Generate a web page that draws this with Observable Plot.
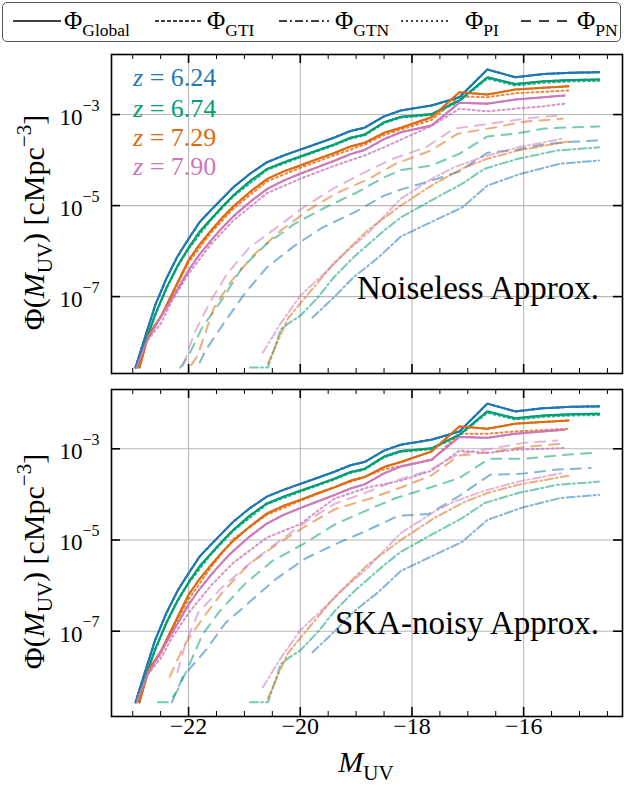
<!DOCTYPE html>
<html><head><meta charset="utf-8">
<script src="https://cdn.jsdelivr.net/npm/d3@7"></script>
<script src="https://cdn.jsdelivr.net/npm/@observablehq/plot@0.6"></script>
<style>
body{margin:0;background:#fff;width:624px;height:788px;overflow:hidden;}
#wrap{position:relative;width:624px;height:788px;}
#legend{position:absolute;left:2px;top:2px;width:619px;height:40px;border:1.2px solid #555;border-radius:5px;box-sizing:border-box;background:#fff;}
#legend svg{position:absolute;left:0;top:0;}
.panel{position:absolute;left:0;}
svg text, svg tspan{font-family:"Liberation Serif","Times New Roman",Tinos,"DejaVu Serif","Noto Serif",serif !important;}
</style></head><body><div id="wrap"><div id="legend"></div></div>
<script>
const FONT = '"Liberation Serif","Times New Roman",Tinos,"DejaVu Serif",serif';

// ---- labels / categories ----
const zLabels = ["6.24", "6.74", "7.29", "7.90"];
const zColors = ["#1f77b4", "#029e73", "#de6a10", "#cc78bc"];
const compNames = ["Global", "GTI", "GTN", "PI", "PN"];
const xMajor = [-22, -20, -18, -16];
const xMinor = [-23, -22.5, -21.5, -21, -20.5, -19.5, -19, -18.5, -17.5, -17, -16.5, -15.5, -15, -14.5];
const yTickExp = [-3, -5, -7];
const yTickVals = [1e-3, 1e-5, 1e-7];
const xTickText = ["\u221222", "\u221220", "\u221218", "\u221216"];

// ---- data: [M_UV, log10 Phi] ----
// Global (same in both panels)
const global624 = [[-22.95,-8.56],[-22.8,-7.97],[-22.6,-7.2],[-22.4,-6.61],[-22.2,-6.12],[-22.0,-5.73],[-21.8,-5.36],[-21.6,-5.10],[-21.4,-4.85],[-21.2,-4.60],[-20.9,-4.30],[-20.6,-4.05],[-20.3,-3.90],[-20.0,-3.77],[-19.7,-3.64],[-19.4,-3.51],[-19.1,-3.36],[-18.85,-3.29],[-18.5,-3.04],[-18.2,-2.91],[-17.65,-2.80],[-17.15,-2.62],[-16.65,-2.01],[-16.15,-2.18],[-15.65,-2.11],[-15.15,-2.08],[-14.65,-2.07]];
const global674 = [[-22.92,-8.55],[-22.8,-8.1],[-22.6,-7.4],[-22.4,-6.82],[-22.2,-6.33],[-22.0,-5.93],[-21.8,-5.57],[-21.6,-5.30],[-21.4,-5.03],[-21.2,-4.78],[-20.9,-4.46],[-20.6,-4.20],[-20.3,-4.05],[-20.0,-3.92],[-19.7,-3.79],[-19.4,-3.66],[-19.1,-3.51],[-18.85,-3.44],[-18.5,-3.17],[-18.2,-3.05],[-17.65,-2.99],[-17.15,-2.69],[-16.65,-2.18],[-16.15,-2.33],[-15.65,-2.27],[-15.15,-2.24],[-14.65,-2.23]];
const global729 = [[-22.88,-8.56],[-22.72,-7.85],[-22.5,-7.45],[-22.3,-6.95],[-22.0,-6.2],[-21.8,-5.85],[-21.6,-5.55],[-21.4,-5.27],[-21.2,-5.02],[-20.9,-4.70],[-20.6,-4.42],[-20.3,-4.25],[-20.0,-4.12],[-19.7,-3.98],[-19.4,-3.85],[-19.1,-3.70],[-18.85,-3.62],[-18.5,-3.40],[-18.2,-3.29],[-17.65,-3.06],[-17.15,-2.51],[-16.65,-2.56],[-16.15,-2.45],[-15.65,-2.41],[-15.2,-2.38]];
const global790 = [[-22.93,-8.56],[-22.75,-7.98],[-22.55,-7.55],[-22.3,-7.05],[-22.0,-6.42],[-21.8,-6.07],[-21.6,-5.77],[-21.4,-5.49],[-21.2,-5.24],[-20.9,-4.92],[-20.6,-4.64],[-20.3,-4.45],[-20.0,-4.30],[-19.7,-4.16],[-19.4,-4.02],[-19.1,-3.87],[-18.85,-3.78],[-18.5,-3.54],[-18.2,-3.39],[-17.65,-3.24],[-17.15,-2.74],[-16.65,-2.76],[-16.15,-2.67],[-15.65,-2.62],[-15.27,-2.58]];

// GTI: read as lying on top of Global
const gti624 = global624, gti674 = global674, gti729 = global729, gti790 = global790;

// GTN (same in both panels)
const gtn624 = [[-19.78,-7.46],[-19.4,-7.02],[-19.05,-6.58],[-18.6,-6.14],[-18.2,-5.68],[-17.6,-5.33],[-17.1,-5.04],[-16.65,-4.56],[-16.05,-4.30],[-15.35,-4.08],[-14.65,-4.01]];
const gtn674 = [[-20.9,-8.56],[-20.58,-8.56],[-20.45,-8.1],[-20.35,-7.72],[-20.2,-7.58],[-20.0,-7.42],[-19.7,-7.04],[-19.4,-6.58],[-19.05,-6.14],[-18.5,-5.55],[-18.2,-5.26],[-17.6,-4.85],[-17.1,-4.52],[-16.7,-4.19],[-16.1,-3.97],[-15.4,-3.79],[-14.65,-3.72]];
const gtn729 = [[-20.58,-8.47],[-20.4,-7.97],[-20.22,-7.48],[-20.0,-7.15],[-19.7,-6.71],[-19.4,-6.27],[-18.8,-5.55],[-18.2,-5.0],[-17.6,-4.52],[-17.05,-4.16],[-16.65,-3.97],[-16.1,-3.79],[-15.2,-3.59]];
const gtn790 = [[-20.67,-8.23],[-20.35,-7.59],[-20.0,-6.98],[-19.65,-6.58],[-19.15,-5.99],[-18.8,-5.62],[-18.2,-4.85],[-17.6,-4.38],[-17.25,-4.16],[-16.7,-3.92],[-16.1,-3.72],[-15.3,-3.53]];

// PI, noiseless panel
const piTop624 = global624;
const piTop674 = [[-22.92,-8.55],[-22.8,-8.1],[-22.6,-7.42],[-22.4,-6.84],[-22.2,-6.35],[-22.0,-5.95],[-21.6,-5.32],[-21.2,-4.80],[-20.6,-4.22],[-20.0,-3.94],[-19.4,-3.68],[-19.1,-3.53],[-18.85,-3.46],[-18.5,-3.19],[-18.2,-3.07],[-17.65,-3.01],[-17.15,-2.71],[-16.65,-2.21],[-16.15,-2.36],[-15.65,-2.30],[-15.15,-2.27],[-14.65,-2.26]];
const piTop729 = [[-22.88,-8.56],[-22.72,-7.85],[-22.5,-7.45],[-22.3,-6.97],[-22.0,-6.25],[-21.6,-5.6],[-21.2,-5.07],[-20.6,-4.47],[-20.0,-4.17],[-19.4,-3.9],[-18.85,-3.66],[-18.5,-3.45],[-18.2,-3.33],[-17.65,-3.12],[-17.15,-2.60],[-16.65,-2.62],[-16.15,-2.53],[-15.65,-2.50],[-15.2,-2.47]];
const piTop790 = [[-22.93,-8.56],[-22.75,-7.98],[-22.5,-7.6],[-22.3,-7.1],[-22.0,-6.5],[-21.6,-5.85],[-21.2,-5.33],[-20.6,-4.73],[-20.0,-4.41],[-19.4,-4.13],[-18.85,-3.90],[-18.5,-3.72],[-18.2,-3.55],[-17.65,-3.25],[-17.15,-2.87],[-16.65,-2.93],[-16.15,-2.87],[-15.65,-2.82],[-15.27,-2.76]];

// PN, noiseless panel
const pnTop624 = [[-21.8,-8.45],[-21.7,-8.19],[-21.35,-7.55],[-20.98,-6.91],[-20.6,-6.36],[-20.1,-5.88],[-19.6,-5.48],[-19.0,-5.13],[-18.5,-4.78],[-18.2,-4.65],[-17.65,-4.45],[-17.15,-4.25],[-16.65,-3.84],[-16.15,-3.78],[-15.65,-3.66],[-15.15,-3.60],[-14.65,-3.57]];
const pnTop674 = [[-22.15,-8.56],[-22.0,-8.3],[-21.75,-7.66],[-21.4,-7.07],[-21.05,-6.38],[-20.6,-5.84],[-20.1,-5.40],[-19.6,-5.07],[-19.0,-4.72],[-18.5,-4.38],[-18.2,-4.22],[-17.65,-4.12],[-17.15,-3.86],[-16.65,-3.48],[-16.15,-3.42],[-15.65,-3.31],[-15.15,-3.28],[-14.65,-3.26]];
const pnTop729 = [[-21.95,-8.5],[-21.84,-8.3],[-21.55,-7.26],[-21.23,-6.65],[-20.83,-6.08],[-20.35,-5.55],[-19.87,-5.11],[-19.37,-4.74],[-18.77,-4.41],[-18.29,-4.08],[-17.66,-3.79],[-17.18,-3.42],[-16.55,-3.29],[-15.96,-3.15],[-15.3,-3.09]];
const pnTop790 = [[-22.1,-8.52],[-21.9,-7.81],[-21.62,-7.13],[-21.32,-6.52],[-20.91,-5.92],[-20.42,-5.48],[-19.92,-5.02],[-19.4,-4.62],[-18.85,-4.27],[-18.34,-3.97],[-17.75,-3.72],[-17.25,-3.31],[-16.59,-3.20],[-16.0,-3.09],[-15.37,-3.02]];

// PI, SKA-noisy panel
const piBot624 = global624;
const piBot674 = piTop674;
const piBot729 = [[-22.88,-8.56],[-22.72,-7.9],[-22.5,-7.5],[-22.3,-7.0],[-22.0,-6.3],[-21.6,-5.6],[-21.2,-4.98],[-20.6,-4.45],[-20.0,-4.14],[-19.4,-3.85],[-18.85,-3.62],[-18.5,-3.45],[-18.2,-3.38],[-17.65,-3.25],[-17.15,-2.67],[-16.65,-2.67],[-16.15,-2.62],[-15.65,-2.59],[-15.2,-2.56]];
const piBot790 = [[-22.93,-8.56],[-22.75,-7.98],[-22.5,-7.6],[-22.3,-7.15],[-22.0,-6.6],[-21.6,-6.0],[-21.2,-5.5],[-20.6,-4.95],[-20.0,-4.65],[-19.4,-4.10],[-18.8,-3.85],[-18.2,-3.70],[-17.65,-3.48],[-17.15,-3.04],[-16.65,-3.09],[-16.15,-3.02],[-15.65,-3.0],[-15.27,-2.98]];

// PN, SKA-noisy panel
const pnBot624 = [[-22.3,-8.56],[-22.1,-7.99],[-21.68,-7.40],[-21.34,-6.82],[-20.89,-6.34],[-20.42,-5.84],[-19.9,-5.40],[-19.37,-5.09],[-18.82,-4.80],[-18.25,-4.47],[-17.7,-4.43],[-17.15,-4.03],[-16.6,-3.57],[-16.05,-3.55],[-15.45,-3.46],[-14.8,-3.42]];
const pnBot674 = [[-22.55,-8.56],[-22.35,-8.56],[-22.2,-8.3],[-22.0,-7.77],[-21.75,-7.07],[-21.43,-6.54],[-20.98,-5.95],[-20.5,-5.46],[-19.95,-5.09],[-19.37,-4.65],[-18.83,-4.36],[-18.29,-4.08],[-17.7,-3.86],[-17.15,-3.64],[-16.62,-3.22],[-16.0,-3.22],[-15.42,-3.15],[-14.76,-3.09]];
const pnBot729 = [[-22.34,-8.0],[-22.07,-7.29],[-21.73,-6.69],[-21.39,-6.14],[-20.92,-5.53],[-20.4,-5.08],[-19.9,-4.69],[-19.37,-4.32],[-18.77,-4.10],[-18.2,-3.85],[-17.66,-3.59],[-17.16,-3.15],[-16.57,-3.07],[-15.96,-2.96],[-15.33,-2.89]];
const pnBot790 = [[-22.2,-7.9],[-22.05,-7.25],[-21.82,-6.58],[-21.41,-6.05],[-20.9,-5.51],[-20.45,-5.09],[-19.9,-4.6],[-19.37,-4.2],[-18.8,-3.95],[-18.3,-3.70],[-17.7,-3.48],[-17.15,-3.10],[-16.6,-3.0],[-16.0,-2.87],[-15.4,-2.82]];

// ---- styles per component ----
const compStyle = {
  Global: {dash: null, op: 0.9, w: 2},
  GTI: {dash: "4,2", op: 1, w: 2},
  GTN: {dash: "8,3,2,3", op: 0.55, w: 2},
  PI: {dash: "2,3", op: 0.8, w: 2},
  PN: {dash: "10,8", op: 0.55, w: 2}
};

const panelSeries = {
  top: {Global:[global624,global674,global729,global790], GTI:[gti624,gti674,gti729,gti790], GTN:[gtn624,gtn674,gtn729,gtn790], PI:[piTop624,piTop674,piTop729,piTop790], PN:[pnTop624,pnTop674,pnTop729,pnTop790]},
  bot: {Global:[global624,global674,global729,global790], GTI:[gti624,gti674,gti729,gti790], GTN:[gtn624,gtn674,gtn729,gtn790], PI:[piBot624,piBot674,piBot729,piBot790], PN:[pnBot624,pnBot674,pnBot729,pnBot790]}
};

function rich(parent, x, y, parts, o) {
  const t = parent.append("text").attr("x", x).attr("y", y)
    .attr("font-family", FONT).attr("font-size", o.size)
    .attr("fill", o.fill || "black").attr("text-anchor", o.anchor || "start");
  if (o.rotate) t.attr("transform", `rotate(${o.rotate},${x},${y})`);
  let shift = 0;
  for (const p of parts) {
    const s = t.append("tspan").text(p.t);
    let target = 0, fs = o.size;
    if (p.sub) { target = o.size * 0.28; fs = o.size * 0.7; }
    if (p.sup) { target = -o.size * 0.42; fs = o.size * 0.7; }
    s.attr("dy", target - shift).attr("font-size", fs);
    if (p.it) s.attr("font-style", "italic");
    shift = target;
  }
  return t;
}

const innerW = 511;
function makePanel(cfg) {
  const innerH = cfg.height - cfg.mt - cfg.mb;
  const S = panelSeries[cfg.key];
  const marks = [
    Plot.ruleX(xMajor, {x: d => d, stroke: "#b8b8b8", strokeWidth: 1.1}),
    Plot.ruleY(yTickVals, {y: d => d, stroke: "#b8b8b8", strokeWidth: 1.1})
  ];
  for (const comp of ["PN", "GTN", "PI", "Global", "GTI"]) {
    S[comp].forEach((pts, zi) => {
      marks.push(Plot.line(pts, {
        x: d => d[0], y: d => 10 ** d[1],
        stroke: zColors[zi], strokeWidth: compStyle[comp].w,
        strokeOpacity: compStyle[comp].op,
        strokeDasharray: compStyle[comp].dash,
        clip: true
      }));
    });
  }
  marks.push(
    Plot.frame({stroke: "black", strokeWidth: 1.6}),
    Plot.tickX(xMajor, {x: d => d, insetTop: innerH - 9, strokeWidth: 1.6}),
    Plot.tickX(xMajor, {x: d => d, insetBottom: innerH - 9, strokeWidth: 1.6}),
    Plot.tickX(xMinor, {x: d => d, insetTop: innerH - 5, strokeWidth: 1}),
    Plot.tickX(xMinor, {x: d => d, insetBottom: innerH - 5, strokeWidth: 1}),
    Plot.tickY(yTickVals, {y: d => d, insetRight: innerW - 9, strokeWidth: 1.6}),
    Plot.tickY(yTickVals, {y: d => d, insetLeft: innerW - 9, strokeWidth: 1.6}),
    Plot.text(yTickVals, {y: d => d, frameAnchor: "left", text: () => "10", dx: -29, dy: 3, textAnchor: "end", fontSize: 23, fontFamily: FONT, fill: "black"}),
    Plot.text(yTickExp, {y: d => 10 ** d, frameAnchor: "left", text: d => "\u2212" + Math.abs(d), dx: -29, dy: -9, textAnchor: "start", fontSize: 16, fontFamily: FONT, fill: "black"})
  );
  if (cfg.xLabels) {
    marks.push(Plot.text(xMajor, {x: d => d, frameAnchor: "bottom", text: (d, i) => xTickText[i], dy: 17, fontSize: 24, fontFamily: FONT, fill: "black"}));
  }
  const svg = Plot.plot({
    width: 624, height: cfg.height,
    marginLeft: 111, marginRight: 2, marginTop: cfg.mt, marginBottom: cfg.mb,
    x: {domain: [-23.38, -14.23], axis: null},
    y: {type: "log", domain: cfg.yDomain, axis: null},
    style: {fontFamily: FONT, background: "white"},
    marks
  });
  svg.classList.add("panel");
  svg.style.top = cfg.top + "px";
  document.getElementById("wrap").appendChild(svg);
  const g = d3.select(svg);
  const cy = cfg.mt + innerH / 2 + 9;
  rich(g, 44, cy, [{t: "\u03A6("}, {t: "M", it: true}, {t: "UV", sub: true}, {t: ") [cMpc"}, {t: "\u22123", sup: true}, {t: "]"}], {size: 30, anchor: "middle", rotate: -90});
  rich(g, 599, cfg.mt + 245, [{t: cfg.label}], {size: 33, anchor: "end"});
  return g;
}

const gTop = makePanel({key: "top", top: 44, height: 336, mt: 10, mb: 7, yDomain: [10 ** -8.69, 10 ** -1.68], label: "Noiseless Approx."});
const gBot = makePanel({key: "bot", top: 380, height: 408, mt: 9, mb: 72, yDomain: [10 ** -8.87, 10 ** -1.70], label: "SKA-noisy Approx.", xLabels: true});

// z annotations (top panel)
const zBase = [42, 73, 102, 131];
zLabels.forEach((z, i) => {
  rich(gTop, 133, zBase[i], [{t: "z", it: true}, {t: " = "}, {t: z}], {size: 26, fill: zColors[i]});
});
// x label
rich(gBot, 366, 392, [{t: "M", it: true}, {t: "UV", sub: true}], {size: 30, anchor: "middle"});

// legend
const leg = d3.select("#legend").append("svg").attr("width", 618).attr("height", 38);
const legItems = [
  {comp: "Global", x0: 10, x1: 58, tx: 61},
  {comp: "GTI", x0: 152, x1: 200, tx: 204},
  {comp: "GTN", x0: 276, x1: 326, tx: 332},
  {comp: "PI", x0: 398, x1: 448, tx: 462},
  {comp: "PN", x0: 518, x1: 570, tx: 574}
];
legItems.forEach(it => {
  leg.append("line").attr("x1", it.x0).attr("x2", it.x1).attr("y1", 18).attr("y2", 18)
    .attr("stroke", "black").attr("stroke-width", 1.5)
    .attr("stroke-dasharray", compStyle[it.comp].dash || null);
  rich(leg, it.tx, 26, [{t: "\u03A6"}, {t: it.comp, sub: true}], {size: 25});
});
</script></body></html>
